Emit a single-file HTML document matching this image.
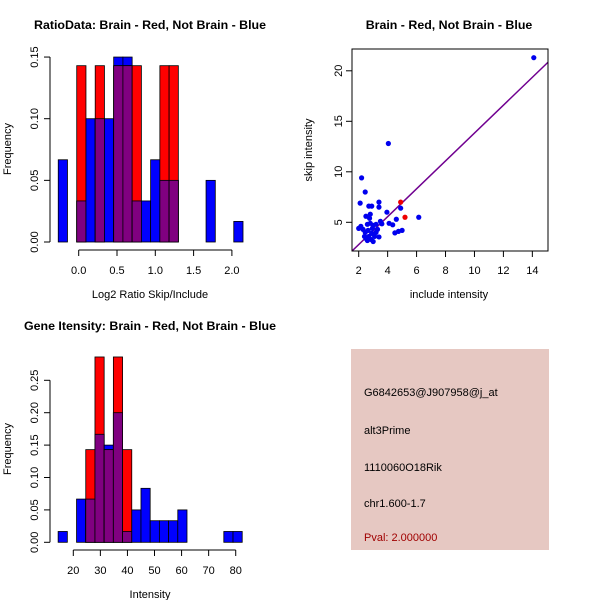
<!DOCTYPE html>
<html><head><meta charset="utf-8">
<style>
body{margin:0;background:#fff;}
svg{font-family:"Liberation Sans",sans-serif;display:block;}
.t{font-weight:bold;font-size:12.4px;}
</style></head>
<body>
<svg id="c" width="600" height="600">
<text class="t" x="150" y="29" text-anchor="middle">RatioData: Brain - Red, Not Brain - Blue</text>
<text class="t" x="449" y="29" text-anchor="middle">Brain - Red, Not Brain - Blue</text>
<text class="t" x="150" y="330" text-anchor="middle">Gene Itensity: Brain - Red, Not Brain - Blue</text>
<rect x="351" y="349" width="198" height="201" fill="#e6c8c2"/>
<g font-size="11">
<text x="364" y="396">G6842653@J907958@j_at</text>
<text x="364" y="434">alt3Prime</text>
<text x="364" y="471">1110060O18Rik</text>
<text x="364" y="507">chr1.600-1.7</text>
<text x="364" y="541" fill="#a00000">Pval: 2.000000</text>
</g>
</svg>
<script>
// Ratio histogram data
const ratioBinStart = -0.267;
const ratioBinWidth = 0.1206;
const ratioBlue = [0.0667,0,0.0333,0.1,0.1,0.1,0.15,0.15,0.0333,0.0333,0.0667,0.05,0.05,0,0,0,0.05,0,0,0.0167];
const ratioRed  = [0,0,0.143,0,0.143,0,0.143,0.143,0.143,0,0,0.143,0.143,0,0,0,0,0,0,0];
const ratioXTicks = ["0.0","0.5","1.0","1.5","2.0"];
const ratioYTicks = ["0.00","0.05","0.10","0.15"];
// Intensity histogram data
const intBinStart = 14.4;
const intBinWidth = 3.4;
const intBlue = [0.0167,0,0.0667,0.0667,0.1667,0.15,0.2,0.0167,0.05,0.0833,0.0333,0.0333,0.0333,0.05,0,0,0,0,0.0167,0.0167];
const intRed  = [0,0,0,0.143,0.286,0.143,0.286,0.143,0,0,0,0,0,0,0,0,0,0,0,0];
const intXTicks = ["20","30","40","50","60","70","80"];
const intYTicks = ["0.00","0.05","0.10","0.15","0.20","0.25"];
// Scatter data
const blueX = [14.1,4.05,2.2,2.45,2.1,3.4,2.7,2.9,3.4,3.95,4.9,6.15,2.5,2.8,2.75,3.5,4.1,4.35,4.6,4.5,4.75,5.0,2.0,2.15,2.3,2.45,2.6,2.8,3.0,3.2,3.6,2.4,2.6,2.7,2.9,3.0,3.1,3.2,3.4,2.5,2.85,3.3,2.65,2.95];
const blueY = [21.3,12.8,9.4,8.0,6.9,7.0,6.6,6.6,6.5,6.0,6.4,5.5,5.6,5.8,5.4,5.1,4.9,4.75,5.3,3.95,4.1,4.2,4.4,4.6,4.3,4.0,4.8,4.9,4.7,4.8,4.85,3.6,3.2,3.6,3.9,3.1,3.6,4.0,3.55,3.4,3.3,4.3,4.2,4.4];
const redX = [4.9,5.2];
const redY = [7.0,5.5];
const fitSlope = 1.38, fitIntercept = 0.035;
const scatterXTicks = [2,4,6,8,10,12,14];
const scatterYTicks = [5,10,15,20];

const svg = document.getElementById('c');
const NS = 'http://www.w3.org/2000/svg';
function mk(tag, attrs, parent){const e=document.createElementNS(NS,tag);for(const k in attrs)e.setAttribute(k,attrs[k]);(parent||svg).appendChild(e);return e;}

function hist(cfg){
  const g = mk('g',{});
  
  
  const sx = v => cfg.x0px + (v - cfg.x0v) * cfg.xs;
  const sy = v => cfg.y0px - v * cfg.ys;
  cfg.blue.forEach((b,i)=>{
    const r = cfg.red[i];
    const x1 = sx(cfg.bs + i*cfg.bw), x2 = sx(cfg.bs + (i+1)*cfg.bw);
    if (b>0){ const e=mk('rect',{x:x1,y:sy(b),width:x2-x1,height:sy(0)-sy(b),fill:'#0000ff',stroke:'#000','stroke-width':0.8},g);
      
       }
    if (r>0){ const e=mk('rect',{x:x1,y:sy(r),width:x2-x1,height:sy(0)-sy(r),fill:'#ff0000',stroke:'#000','stroke-width':0.8},g);
      
       }
    const m = Math.min(b,r);
    if (m>0){ const e=mk('rect',{x:x1,y:sy(m),width:x2-x1,height:sy(0)-sy(m),fill:'#800080',stroke:'#000','stroke-width':0.8},g);
      
       }
  });
  const yv = cfg.yt.map(Number);
  mk('line',{x1:cfg.yAxisX,x2:cfg.yAxisX,y1:sy(yv[0]),y2:sy(yv[yv.length-1]),stroke:'#000'},g);
  cfg.yt.forEach(t=>{
    const y=sy(Number(t));
    mk('line',{x1:cfg.yAxisX-6,x2:cfg.yAxisX,y1:y,y2:y,stroke:'#000'},g);
    const tx=mk('text',{x:cfg.yAxisX-12,y:y,'font-size':11,'text-anchor':'middle',transform:`rotate(-90 ${cfg.yAxisX-12} ${y})`},g);
    tx.textContent=t;
  });
  const xv = cfg.xt.map(Number);
  mk('line',{x1:sx(xv[0]),x2:sx(xv[xv.length-1]),y1:cfg.xAxisY,y2:cfg.xAxisY,stroke:'#000'},g);
  cfg.xt.forEach(t=>{
    const x=sx(Number(t));
    mk('line',{x1:x,x2:x,y1:cfg.xAxisY,y2:cfg.xAxisY+6,stroke:'#000'},g);
    const tx=mk('text',{x:x,y:cfg.xAxisY+24,'font-size':11,'text-anchor':'middle'},g);
    tx.textContent=t;
  });
  const xl=mk('text',{x:cfg.xlx,y:cfg.xAxisY+48,'font-size':11,'text-anchor':'middle'},g);
  xl.textContent=cfg.xlab;
  const yl=mk('text',{x:11,y:cfg.ylY,'font-size':11,'text-anchor':'middle',transform:`rotate(-90 11 ${cfg.ylY})`},g);
  yl.textContent='Frequency';
}
hist({name:'ratio-histogram',bs:ratioBinStart,bw:ratioBinWidth,blue:ratioBlue,red:ratioRed,xt:ratioXTicks,yt:ratioYTicks,
  x0px:78.7,x0v:0,xs:76.6,y0px:242,ys:1233,yAxisX:50,xAxisY:250,xlab:'Log2 Ratio Skip/Include',xlx:150,ylY:149});
hist({name:'intensity-histogram',bs:intBinStart,bw:intBinWidth,blue:intBlue,red:intRed,xt:intXTicks,yt:intYTicks,
  x0px:73.3,x0v:20,xs:2.707,y0px:542.3,ys:648,yAxisX:50,xAxisY:550,xlab:'Intensity',xlx:150,ylY:449});

(function(){
  const g=mk('g',{});
  
  
  const sx=v=>358.7+(v-2)*14.47, sy=v=>222.3-(v-5)*10.1;
  const L=352,R=548,T=49,B=251;
  const clip=mk('clipPath',{id:'cp'},g); mk('rect',{x:L,y:T,width:R-L,height:B-T},clip);
  const xa=(L-358.7)/14.47+2, xb=(R-358.7)/14.47+2;
  const ln=mk('line',{x1:sx(xa),y1:sy(fitSlope*xa+fitIntercept),x2:sx(xb),y2:sy(fitSlope*xb+fitIntercept),stroke:'#700090','stroke-width':1.5,'clip-path':'url(#cp)'},g);
  
  
  blueX.forEach((x,i)=>{const c=mk('circle',{cx:sx(x),cy:sy(blueY[i]),r:2.6,fill:'#0000ee'},g);
    
    });
  redX.forEach((x,i)=>{const c=mk('circle',{cx:sx(x),cy:sy(redY[i]),r:2.6,fill:'#ee0000'},g);
    
    });
  mk('rect',{x:L,y:T,width:R-L,height:B-T,fill:'none',stroke:'#000'},g);
  scatterXTicks.forEach(t=>{const x=sx(t);mk('line',{x1:x,x2:x,y1:B,y2:B+6,stroke:'#000'},g);
    const tx=mk('text',{x:x,y:B+23,'font-size':11,'text-anchor':'middle'},g);tx.textContent=t;});
  scatterYTicks.forEach(t=>{const y=sy(t);mk('line',{x1:L-6,x2:L,y1:y,y2:y,stroke:'#000'},g);
    const tx=mk('text',{x:L-10,y:y,'font-size':11,'text-anchor':'middle',transform:`rotate(-90 ${L-10} ${y})`},g);tx.textContent=t;});
  const xl=mk('text',{x:449,y:298,'font-size':11,'text-anchor':'middle'},g);xl.textContent='include intensity';
  const yl=mk('text',{x:312,y:150,'font-size':11,'text-anchor':'middle',transform:'rotate(-90 312 150)'},g);yl.textContent='skip intensity';
})();
</script>
</body></html>
